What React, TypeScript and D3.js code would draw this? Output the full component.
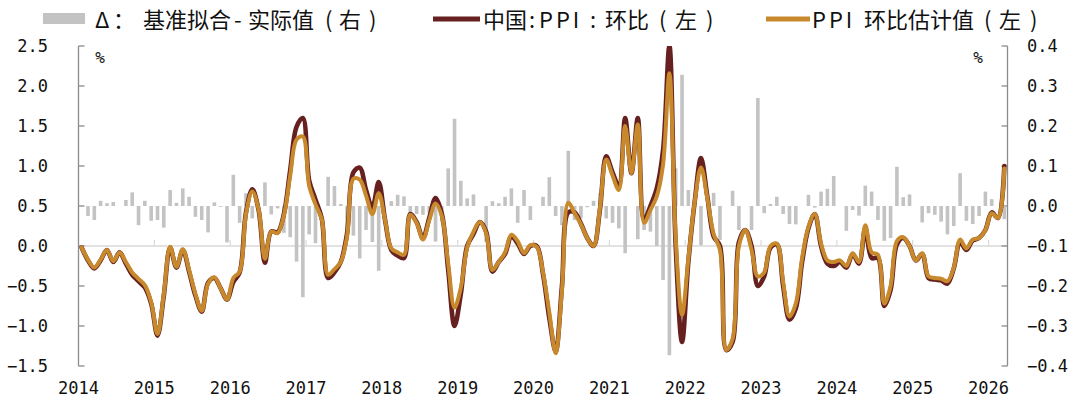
import React from 'react';
import * as d3 from 'd3';

// ---- data (monthly, 2014-01 .. 2026-03) ----
const yearLabels = ['2014', '2015', '2016', '2017', '2018', '2019', '2020', '2021', '2022', '2023', '2024', '2025', '2026'];

// 中国:PPI:环比 (左轴, %)
const actualPPI = [
  -0.02, -0.18, -0.28, -0.18, -0.05, -0.2, -0.08, -0.22, -0.36, -0.44, -0.52, -0.72,
  -1.12, -0.62, -0.02, -0.27, -0.05, -0.32, -0.62, -0.82, -0.46, -0.4, -0.53, -0.67,
  -0.45, -0.33, 0.42, 0.71, 0.45, -0.21, 0.18, 0.17, 0.4, 0.95, 1.49, 1.6,
  0.82, 0.58, 0.34, -0.4, -0.33, -0.2, 0.16, 0.92, 0.98, 0.7, 0.48, 0.8,
  0.33, -0.05, -0.12, -0.15, 0.4, 0.3, 0.1, 0.35, 0.6, 0.4, -0.3, -1.0,
  -0.6, 0.0, 0.15, 0.3, 0.18, -0.32, -0.2, -0.1, 0.12, 0.03, -0.1, 0.0,
  0.0, -0.35, -0.9, -1.32, -0.5, 0.42, 0.42, 0.28, 0.1, 0.0, 0.45, 1.12,
  0.92, 0.75, 1.6, 0.91, 1.6, 0.33, 0.5, 0.72, 1.2, 2.5, 0.0, -1.2,
  -0.2, 0.55, 1.1, 0.62, 0.12, 0.0, -1.3, -1.2, 0.05, 0.2, 0.0, -0.5,
  -0.38, -0.02, 0.02, -0.5, -0.92, -0.78, -0.2, 0.22, 0.4, 0.0, -0.22, -0.25,
  -0.2, -0.27, -0.1, -0.22, 0.22, -0.15, -0.15, -0.75, -0.55, 0.02, 0.1, 0.0,
  -0.18, -0.1, -0.4, -0.42, -0.43, -0.47, -0.28, 0.05, -0.05, 0.07, 0.1, 0.2,
  0.42, 0.35, 1.0,
];

// PPI环比估计值 (左轴, %)
const estimatePPI = [
  -0.02, -0.17, -0.27, -0.17, -0.05, -0.19, -0.08, -0.2, -0.33, -0.41, -0.49, -0.7,
  -1.1, -0.6, -0.01, -0.26, -0.04, -0.3, -0.6, -0.81, -0.47, -0.39, -0.53, -0.67,
  -0.4, -0.32, 0.4, 0.68, 0.46, -0.16, 0.18, 0.16, 0.38, 0.88, 1.33, 1.37,
  0.75, 0.52, 0.33, -0.36, -0.29, -0.2, 0.12, 0.84, 0.83, 0.63, 0.4, 0.66,
  0.33, -0.03, -0.08, -0.11, 0.39, 0.29, 0.08, 0.32, 0.53, 0.37, -0.22, -0.77,
  -0.52, -0.02, 0.18, 0.3, 0.16, -0.3, -0.2, -0.08, 0.14, 0.06, -0.09, 0.01,
  -0.01, -0.33, -0.83, -1.34, -0.55, 0.54, 0.41, 0.27, 0.1, 0.0, 0.47, 1.08,
  0.88, 0.7, 1.5, 0.91, 1.52, 0.29, 0.45, 0.62, 1.02, 2.16, 0.1, -0.86,
  -0.16, 0.55, 0.98, 0.6, 0.15, -0.05, -1.3, -1.16, 0.0, 0.2, -0.05, -0.38,
  -0.33, 0.0, 0.03, -0.45, -0.88, -0.72, -0.15, 0.24, 0.4, 0.03, -0.18, -0.2,
  -0.18, -0.25, -0.09, -0.2, 0.26, -0.08, -0.11, -0.72, -0.5, 0.06, 0.11, 0.0,
  -0.18, -0.09, -0.38, -0.4, -0.41, -0.44, -0.27, 0.08, -0.03, 0.08, 0.1, 0.2,
  0.41, 0.35, 0.97,
];

// Δ：基准拟合-实际值 (右轴, %)
const fitDelta = [
  0.0, -0.025, -0.035, 0.013, 0.007, 0.01, 0.0, 0.015, 0.034, -0.048, 0.013, -0.037,
  -0.035, -0.054, 0.04, 0.008, 0.044, 0.023, -0.027, -0.035, -0.066, 0.009, -0.002, -0.091,
  0.078, -0.042, 0.032, -0.031, 0.0, 0.059, -0.021, -0.006, -0.067, -0.078, -0.139, -0.228,
  -0.071, -0.093, 0.0, 0.073, 0.05, 0.005, -0.071, -0.074, -0.131, -0.06, -0.09, -0.162,
  0.0, 0.012, 0.028, 0.024, -0.018, -0.02, -0.022, -0.018, -0.089, -0.04, 0.094, 0.218,
  0.063, 0.019, 0.029, 0.0, -0.089, 0.012, 0.007, 0.023, 0.044, -0.042, 0.04, -0.035,
  0.0, 0.023, 0.072, -0.025, -0.048, 0.138, -0.035, -0.031, -0.003, 0.013, 0.032, -0.031,
  -0.042, -0.056, -0.118, 0.0, -0.083, -0.06, -0.064, -0.1, -0.185, -0.373, 0.094, 0.328,
  0.04, 0.0, -0.098, 0.0, 0.033, -0.085, 0.0, 0.038, -0.06, 0.0, -0.06, 0.27,
  -0.018, 0.005, 0.023, -0.02, -0.045, -0.046, 0.0, 0.028, -0.004, 0.036, 0.043, 0.075,
  0.0, -0.062, -0.01, -0.024, 0.051, 0.036, -0.035, -0.087, -0.08, 0.098, 0.022, 0.029,
  0.0, -0.041, -0.018, -0.022, -0.039, -0.071, -0.05, 0.082, -0.037, -0.045, -0.025, 0.036,
  0.017, 0.0, -0.033,
];

const leftTicks = [2.5, 2.0, 1.5, 1.0, 0.5, 0.0, -0.5, -1.0, -1.5];
const rightTicks = [0.4, 0.3, 0.2, 0.1, 0.0, -0.1, -0.2, -0.3, -0.4];

// legend texts, split in runs [text, x, letterSpacing] to keep the original font's wide punctuation
const legendBarRuns = [
  ['Δ', 95, 0], ['：', 113, 0], ['基准拟合', 143, 0], ['-', 234, 0], ['实际值', 248, 0], ['(', 325, 0], ['右', 339, 0], [')', 369, 0],
] as [string, number, number][];
const legendActualRuns = [
  ['中国', 483, 0], [':', 529, 0], ['PPI', 539, 3], [':', 590, 0], ['环比', 605, 0], ['(', 659, 0], ['左', 675, 0], [')', 706, 0],
] as [string, number, number][];
const legendEstimateRuns = [
  ['PPI', 812, 3], ['环比估计值', 864, 0], ['(', 984, 0], ['左', 999, 0], [')', 1030, 0],
] as [string, number, number][];

export default function App() {
  const W = 1080;
  const H = 406;
  const x0 = 78.5;
  const x1 = 1007.5;
  const yTop = 46;
  const yBot = 366;

  const idx = d3.range(actualPPI.length);
  const x = d3.scaleBand<number>().domain(idx).range([x0, x1]).padding(0);
  const bw = x.bandwidth();
  const cx = (i: number) => (x(i) as number) + bw / 2;
  const yL = d3.scaleLinear().domain([-1.5, 2.5]).range([yBot, yTop]);
  const yR = d3.scaleLinear().domain([-0.4, 0.4]).range([yBot, yTop]);

  const lineGen = d3
    .line<number>()
    .x((_, i) => cx(i))
    .y((d) => yL(d))
    .curve(d3.curveCatmullRom.alpha(0.5));

  const fmt = d3.format('.1f');
  const numFont = "'DejaVu Sans Mono', monospace";
  const cjkFont = "'Noto Sans CJK SC', sans-serif";
  const barW = 3.6;
  const axisGray = '#8c8c8c';
  const zeroGray = '#d9d9d9';
  const dark = '#65201f';
  const orange = '#c8892d';
  const barGray = '#c3c3c3';

  const runs = (rs: [string, number, number][]) =>
    rs.map(([t, xx, ls], k) => (
      <tspan key={k} x={xx} letterSpacing={ls}>
        {t}
      </tspan>
    ));

  return (
    <svg
      width={W}
      height={H}
      viewBox={`0 0 ${W} ${H}`}
      style={{ position: 'absolute', left: 0, top: 0, background: '#fff' }}
    >
      <defs>
        <clipPath id="plotClip">
          <rect x={x0} y={yTop} width={x1 - x0} height={yBot - yTop} />
        </clipPath>
      </defs>

      {/* legend */}
      <rect x={43} y={13} width={42} height={11} fill={barGray} />
      <text y={28} fontFamily={cjkFont} fontSize={22} fill="#111">
        {runs(legendBarRuns)}
      </text>
      <line x1={433} x2={480} y1={19} y2={19} stroke={dark} strokeWidth={5} />
      <text y={28} fontFamily={cjkFont} fontSize={22} fill="#111">
        {runs(legendActualRuns)}
      </text>
      <line x1={766} x2={810} y1={19} y2={19} stroke={orange} strokeWidth={5} />
      <text y={28} fontFamily={cjkFont} fontSize={22} fill="#111">
        {runs(legendEstimateRuns)}
      </text>

      {/* unit labels */}
      <text x={100} y={63} fontFamily={numFont} fontSize={16} textAnchor="middle" fill="#111">%</text>
      <text x={978} y={63} fontFamily={numFont} fontSize={16} textAnchor="middle" fill="#111">%</text>

      {/* x axis at left zero */}
      <line x1={x0} x2={x1} y1={yL(0)} y2={yL(0)} stroke={zeroGray} strokeWidth={1.5} />
      {yearLabels.map((lab, k) => {
        const xx = x0 + k * 12 * bw;
        return (
          <g key={lab}>
            {k > 0 && (
              <line x1={xx} x2={xx} y1={yL(0)} y2={yL(0) - 6} stroke={zeroGray} strokeWidth={1.2} />
            )}
            <text x={xx} y={394} fontFamily={numFont} fontSize={17} textAnchor="middle" fill="#111">
              {lab}
            </text>
          </g>
        );
      })}

      {/* left axis */}
      <line x1={x0} x2={x0} y1={yTop} y2={yBot} stroke={axisGray} strokeWidth={1.3} />
      {leftTicks.map((t) => (
        <g key={'l' + t}>
          <line x1={x0} x2={x0 + 6} y1={yL(t)} y2={yL(t)} stroke={axisGray} strokeWidth={1.3} />
          <text x={48} y={yL(t) + 6} fontFamily={numFont} fontSize={17} textAnchor="end" fill="#111">
            {fmt(t)}
          </text>
        </g>
      ))}

      {/* right axis */}
      <line x1={x1} x2={x1} y1={yTop} y2={yBot} stroke={axisGray} strokeWidth={1.3} />
      {rightTicks.map((t) => (
        <g key={'r' + t}>
          <line x1={x1 - 6} x2={x1} y1={yR(t)} y2={yR(t)} stroke={axisGray} strokeWidth={1.3} />
          <text x={1027} y={yR(t) + 6} fontFamily={numFont} fontSize={17} textAnchor="start" fill="#111">
            {fmt(t)}
          </text>
        </g>
      ))}

      <g clipPath="url(#plotClip)">
        {/* bars (right axis) */}
        {fitDelta.map((d, i) => (
          <rect
            key={'b' + i}
            x={cx(i) - barW / 2}
            y={Math.min(yR(d), yR(0))}
            width={barW}
            height={Math.abs(yR(d) - yR(0))}
            fill={barGray}
          />
        ))}
        {/* lines (left axis) */}
        <path d={lineGen(actualPPI) || ''} fill="none" stroke={dark} strokeWidth={4.6} strokeLinejoin="round" strokeLinecap="round" />
        <path d={lineGen(estimatePPI) || ''} fill="none" stroke={orange} strokeWidth={4} strokeLinejoin="round" strokeLinecap="round" />
      </g>
    </svg>
  );
}
